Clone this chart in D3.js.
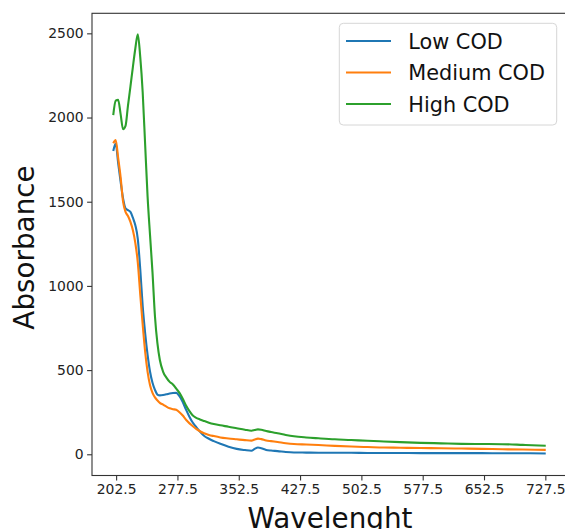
<!DOCTYPE html>
<html>
<head>
<meta charset="utf-8">
<script src="https://cdn.jsdelivr.net/npm/d3@7"></script>
<style>
  body { margin: 0; background: #fff; }
  svg { display: block; font-family: "DejaVu Sans", sans-serif; }
</style>
</head>
<body>
<svg id="chart" width="565" height="529"></svg>
<script>
var wavelength = [199, 202, 205, 208, 211, 214, 217, 220, 223, 226, 229, 232, 235, 238, 241, 244, 247, 250, 253, 256,
    260, 264, 268, 272, 276, 280, 284, 288, 292, 296, 300, 305, 310, 316, 322, 330, 340, 350, 360, 368,
    372, 376, 380, 386, 392, 400, 410, 420, 435, 450, 470, 490, 510, 530, 550, 575, 600, 625, 650, 675, 700, 728];

var lowCOD = [1801, 1845, 1730, 1620, 1520, 1461, 1450, 1440, 1405, 1360, 1280, 1100, 880, 720, 590, 490, 425, 383, 355, 350,
    352, 356, 361, 364, 365, 345, 310, 265, 225, 190, 165, 135, 110, 92, 78, 62, 45, 32, 25, 21,
    32, 40, 36, 26, 22, 19, 14, 11, 10, 9, 9, 9, 8, 8, 8, 7, 7, 7, 7, 6, 6, 5];

var mediumCOD = [1847, 1866, 1760, 1645, 1500, 1440, 1415, 1380, 1330, 1255, 1140, 950, 770, 610, 490, 410, 365, 338, 320, 305,
    295, 283, 273, 268, 264, 250, 230, 205, 185, 168, 152, 137, 125, 115, 108, 100, 94, 89, 84, 81,
    88, 93, 90, 82, 78, 73, 66, 61, 58, 55, 50, 46, 43, 40, 39, 37, 36, 34, 32, 30, 28, 26];

var highCOD = [2015, 2100, 2105, 2020, 1930, 1950, 2070, 2183, 2300, 2410, 2495, 2360, 2150, 1840, 1530, 1300, 1080, 820, 660, 560,
    490, 455, 430, 415, 390, 365, 330, 290, 258, 232, 218, 207, 198, 188, 180, 172, 164, 155, 146, 140,
    144, 148, 146, 138, 132, 125, 115, 107, 100, 95, 89, 85, 80, 76, 72, 68, 65, 62, 61, 60, 56, 51];

var seriesNames = ["Low COD", "Medium COD", "High COD"];
var xTicks = [202.5, 277.5, 352.5, 427.5, 502.5, 577.5, 652.5, 727.5];
var yTicks = [0, 500, 1000, 1500, 2000, 2500];

var colors = ["#1f77b4", "#ff7f0e", "#2ca02c"];
var allSeries = [lowCOD, mediumCOD, highCOD];

var svg = d3.select("#chart"),
    plotLeft = 92, plotRight = 567, plotTop = 13.3, plotBottom = 475.5;

var x = d3.scaleLinear().domain([173, 754]).range([plotLeft, plotRight]);
var y = d3.scaleLinear().domain([-126, 2619]).range([plotBottom, plotTop]);

// Lines
var line = d3.line()
    .x(function (d, i) { return x(wavelength[i]); })
    .y(function (d) { return y(d); })
    .curve(d3.curveMonotoneX);

svg.append("g")
    .selectAll("path")
    .data(allSeries)
    .enter()
    .append("path")
    .attr("d", line)
    .attr("fill", "none")
    .attr("stroke", function (d, i) { return colors[i]; })
    .attr("stroke-width", 2.1)
    .attr("stroke-linejoin", "round");

// Axes
var xAxis = svg.append("g")
    .attr("transform", "translate(0," + plotBottom + ")")
    .call(d3.axisBottom(x).tickValues(xTicks).tickFormat(d3.format(".1f")).tickSizeOuter(0).tickSize(4.9).tickPadding(3.5));

var yAxis = svg.append("g")
    .attr("transform", "translate(" + plotLeft + ",0)")
    .call(d3.axisLeft(y).tickValues(yTicks).tickFormat(d3.format("d")).tickSizeOuter(0).tickSize(4.9).tickPadding(3.5));

[xAxis, yAxis].forEach(function (a) {
    a.select(".domain").remove();
    a.selectAll(".tick line").attr("stroke", "#333").attr("stroke-width", 1.1);
    a.selectAll(".tick text")
        .attr("fill", "#222")
        .attr("font-size", "13.9px")
        .attr("font-family", "DejaVu Sans, sans-serif");
});

// Spines
svg.append("rect")
    .attr("x", plotLeft)
    .attr("y", plotTop)
    .attr("width", plotRight - plotLeft)
    .attr("height", plotBottom - plotTop)
    .attr("fill", "none")
    .attr("stroke", "#333")
    .attr("stroke-width", 1.1);

// Axis labels (the x label is cut by the bottom edge, as in the source)
svg.append("text")
    .attr("x", 330)
    .attr("y", 527.5)
    .attr("text-anchor", "middle")
    .attr("font-size", "27.8px")
    .attr("fill", "#111")
    .text("Wavelenght");

svg.append("text")
    .attr("transform", "translate(33.5,247.5) rotate(-90)")
    .attr("text-anchor", "middle")
    .attr("font-size", "27.8px")
    .attr("fill", "#111")
    .text("Absorbance");

// Legend
var legend = svg.append("g");
legend.append("rect")
    .attr("x", 339.3)
    .attr("y", 23.3)
    .attr("width", 217.4)
    .attr("height", 101.7)
    .attr("rx", 4)
    .attr("fill", "#fff")
    .attr("fill-opacity", 0.8)
    .attr("stroke", "#d6d6d6")
    .attr("stroke-width", 1);

var rowY = [41, 72.5, 104];
seriesNames.forEach(function (name, i) {
    legend.append("line")
        .attr("x1", 346)
        .attr("x2", 391)
        .attr("y1", rowY[i])
        .attr("y2", rowY[i])
        .attr("stroke", colors[i])
        .attr("stroke-width", 2.1);
    legend.append("text")
        .attr("x", 408.3)
        .attr("y", rowY[i] + 7.6)
        .attr("font-size", "20.8px")
        .attr("fill", "#111")
        .text(name);
});
</script>
</body>
</html>
